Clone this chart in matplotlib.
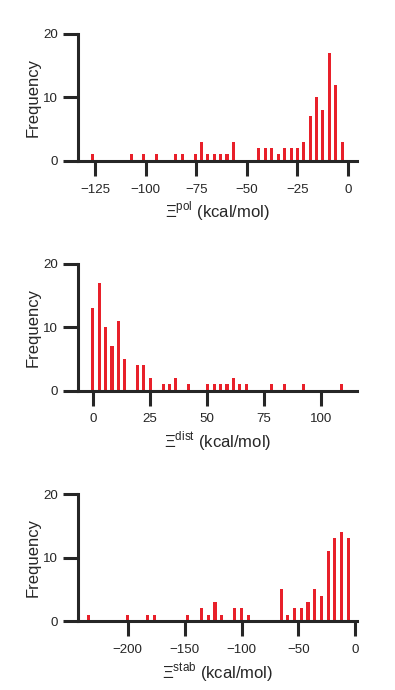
import matplotlib
matplotlib.use('Agg')
from matplotlib import pyplot as plt

plt.rcParams['font.family'] = ['Liberation Sans', 'DejaVu Sans']
plt.rcParams['mathtext.fontset'] = 'custom'
plt.rcParams['mathtext.rm'] = 'Liberation Sans'

# Histogram bins (bin centre, count)
pol_centers = [-2.8, -6.0, -9.1, -12.3, -15.5, -18.6, -21.8, -25.0, -28.1, -31.3,
               -34.5, -37.6, -40.8, -44.0, -56.6, -59.8, -63.0, -66.1, -69.3, -72.5,
               -75.6, -82.0, -85.1, -94.6, -101.0, -107.3, -126.3]
pol_counts = [3, 12, 17, 8, 10, 7, 3, 2, 2, 2,
              1, 2, 2, 2, 3, 1, 1, 1, 1, 3,
              1, 1, 1, 1, 1, 1, 1]
pol_bin = 3.17

dist_centers = [0.0, 2.8, 5.6, 8.4, 11.2, 14.0, 19.6, 22.4, 25.2, 30.8,
                33.6, 36.4, 42.0, 50.4, 53.2, 56.0, 58.8, 61.6, 64.4, 67.2,
                78.4, 84.0, 92.4, 109.0]
dist_counts = [13, 17, 10, 7, 11, 5, 4, 4, 2, 1,
               1, 2, 1, 1, 1, 1, 1, 2, 1, 1,
               1, 1, 1, 1]
dist_bin = 2.8

stab_centers = [-6.2, -12.1, -18.0, -23.9, -29.8, -35.7, -41.6, -47.5, -53.4, -59.3,
                -65.2, -94.1, -100.3, -106.2, -117.4, -123.3, -129.2, -135.1, -147.2,
                -176.4, -182.3, -200.0, -234.8]
stab_counts = [13, 14, 13, 11, 4, 5, 3, 2, 2, 1,
               5, 1, 2, 2, 1, 3, 1, 2, 1,
               1, 1, 1, 1]
stab_bin = 5.9

panels = [
    (pol_centers, pol_counts, pol_bin, [-125, -100, -75, -50, -25, 0], (-133.5, 4.6), 'pol'),
    (dist_centers, dist_counts, dist_bin, [0, 25, 50, 75, 100], (-6.4, 115.8), 'dist'),
    (stab_centers, stab_counts, stab_bin, [-200, -150, -100, -50, 0], (-243.5, 1.5), 'stab'),
]
bottoms = [0.767, 0.434, 0.100]

red = '#e8202a'
ink = '#262626'

fig = plt.figure(figsize=(3.95, 6.9), dpi=100)

for (centers, counts, binw, xticks, xlim, sup), b in zip(panels, bottoms):
    ax = fig.add_axes([0.198, b, 0.706, 0.184])
    ax.bar(centers, counts, width=binw * 0.48, color=red, linewidth=0, zorder=1)
    ax.set_xlim(*xlim)
    ax.set_ylim(0, 20)
    ax.set_xticks(xticks)
    ax.set_xticklabels([str(t).replace('-', '\u2212') for t in xticks])
    ax.set_yticks([0, 10, 20])
    for s in ['top', 'right']:
        ax.spines[s].set_visible(False)
    for s in ['left', 'bottom']:
        ax.spines[s].set_linewidth(2.2)
        ax.spines[s].set_color(ink)
        ax.spines[s].set_zorder(3)
    ax.tick_params(axis='both', length=10.5, width=2.2, color=ink, labelsize=9.6,
                   labelcolor=ink)
    ax.tick_params(axis='x', pad=6)
    ax.tick_params(axis='y', pad=4)
    ax.set_ylabel('Frequency', fontsize=12, color=ink, labelpad=2)
    ax.set_xlabel('\u039e$^{\\mathrm{' + sup + '}}$ (kcal/mol)', fontsize=12,
                  color=ink, labelpad=3)

fig.savefig('out.png', dpi=100)
